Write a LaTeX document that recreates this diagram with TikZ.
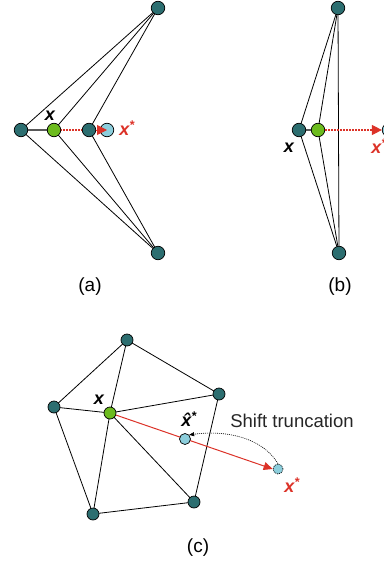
\documentclass[tikz,border=0pt]{standalone}
\usepackage{fontspec}
\setmainfont{Liberation Sans}
\usetikzlibrary{arrows.meta}
\definecolor{teal1}{RGB}{44,110,112}
\definecolor{grn}{RGB}{108,187,30}
\definecolor{lblue}{RGB}{140,206,220}
\definecolor{redx}{RGB}{220,50,40}
\newcommand{\xstar}{x\textsuperscript{*}}
\begin{document}
\begin{tikzpicture}[x=1pt,y=-1pt,
  vtx/.style={circle,draw=black,line width=0.7pt,fill=teal1,minimum size=13.5pt,inner sep=0pt},
  gvtx/.style={vtx,fill=grn},
  bvtx/.style={vtx,fill=lblue},
  dbvtx/.style={vtx,fill=lblue,dashed,dash pattern=on 1pt off 1pt},
  edge/.style={line width=0.8pt,black},
  redarrow/.style={redx,line width=1pt,-{Triangle[length=10pt,width=10pt]}},
  reddot/.style={redx,line width=1.2pt,dash pattern=on 1.5pt off 1.5pt},
  lbl/.style={font=\fontsize{18}{18}\selectfont\bfseries\itshape},
  captext/.style={font=\fontsize{19}{19}\selectfont}
]
\useasboundingbox (0,0) rectangle (383,562);
% ---------- (a)
\coordinate (aT) at (158,8);
\coordinate (aB) at (158,253);
\draw[edge] (21,130) -- (aT);
\draw[edge] (54,130) -- (aT);
\draw[edge] (89,130) -- (aT);
\draw[edge] (21,130) -- (aB);
\draw[edge] (54,130) -- (aB);
\draw[edge] (89,130) -- (aB);
\draw[line width=1.5pt,black!65] (21,130) -- (54,130);
\draw[reddot] (54,130) -- (89,130);
\node[vtx] (a1) at (21,130) {};
\node[gvtx] (a2) at (54,130) {};
\node[vtx] (a3) at (89,130) {};
\node[bvtx] (a4) at (107,130) {};
\node[vtx] (atop) at (aT) {};
\node[vtx] (abot) at (aB) {};
\draw[redarrow] (a3.east) -- (a4.center);
\node[lbl] (ax) at (50,116) {x};
\node[lbl,text=redx] (axs) at (127,128) {\xstar};
\node[captext] (capa) at (90,287) {(a)};
% ---------- (b)
\coordinate (bT) at (338,8);
\coordinate (bB) at (339,253);
\draw[edge] (299,130) -- (bT);
\draw[edge] (318,130) -- (bT);
\draw[edge] (bT) -- (bB);
\draw[edge] (299,130) -- (bB);
\draw[edge] (318,130) -- (bB);
\draw[line width=1.2pt,black!65] (299,130) -- (318,130);
\node[vtx] (b1) at (299,130) {};
\node[gvtx] (b2) at (318,130) {};
\node[bvtx] (b3) at (389,130) {};
\draw[reddot] (b2.east) -- (375,130);
\draw[redarrow] (373,130) -- (b3.west);
\node[vtx] (btop) at (bT) {};
\node[vtx] (bbot) at (bB) {};
\node[lbl] (bx) at (289,148) {x};
\node[lbl,text=redx] (bxs) at (379,146) {\xstar};
\node[captext] (capb) at (340,287) {(b)};
% ---------- (c)
\coordinate (cT) at (127,340);
\coordinate (cR) at (219,394);
\coordinate (cL) at (54,407);
\coordinate (cG) at (110,413);
\coordinate (cBL) at (93,514);
\coordinate (cBR) at (194,502);
\draw[edge] (cT) -- (cL);
\draw[edge] (cT) -- (cR);
\draw[edge] (cT) -- (cG);
\draw[edge] (cL) -- (cG);
\draw[edge] (cG) -- (cR);
\draw[edge] (cL) -- (cBL);
\draw[edge] (cG) -- (cBL);
\draw[edge] (cG) -- (cBR);
\draw[edge] (cR) -- (cBR);
\draw[edge] (cBL) -- (cBR);
\node[vtx,minimum size=12pt] (c1) at (cT) {};
\node[vtx,minimum size=12pt] (c2) at (cR) {};
\node[vtx,minimum size=12pt] (c3) at (cL) {};
\node[vtx,minimum size=12pt] (c5) at (cBL) {};
\node[vtx,minimum size=12pt] (c6) at (cBR) {};
\node[dbvtx,minimum size=10pt] (cxs) at (278,469) {};
\draw[redx,line width=1pt,-{Triangle[length=9pt,width=8pt]}] (cG) -- (cxs.west);
\node[gvtx,minimum size=12pt] (c4) at (cG) {};
\node[bvtx,minimum size=11pt] (cxh) at (185,439) {};
\draw[line width=0.6pt,dash pattern=on 1pt off 1pt,-{Triangle[length=5pt,width=4pt]}]
  (cxs.north) .. controls (262,437) and (225,430) .. (cxh.north east);
\node[lbl] (cx) at (99,400) {x};
\node[lbl] (cxhl) at (189,419) {\^{x}\textsuperscript{*}};
\node[font=\fontsize{18.5}{18.5}\selectfont,text=black!85] (st) at (292,421) {Shift truncation};
\node[lbl,text=redx] (cxsl) at (292,485) {\xstar};
\node[captext] (capc) at (198,548) {(c)};
\end{tikzpicture}
\end{document}
